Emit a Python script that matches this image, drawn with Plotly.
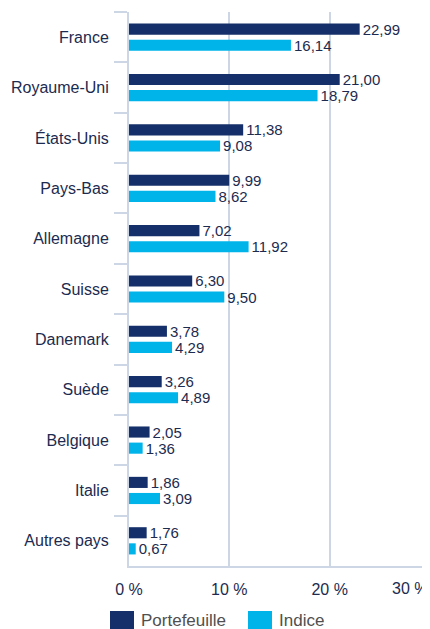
import plotly.graph_objects as go

categories = ["France", "Royaume-Uni", "États-Unis", "Pays-Bas", "Allemagne", "Suisse",
              "Danemark", "Suède", "Belgique", "Italie", "Autres pays"]
portefeuille = [22.99, 21.00, 11.38, 9.99, 7.02, 6.30, 3.78, 3.26, 2.05, 1.86, 1.76]
indice = [16.14, 18.79, 9.08, 8.62, 11.92, 9.50, 4.29, 4.89, 1.36, 3.09, 0.67]
series_names = ["Portefeuille", "Indice"]
x_tickvals = [0, 10, 20]
x_ticktext = ["0 %", "10 %", "20 %"]

DARK = "#142f69"
LIGHT = "#00b4ea"
NAVY = "#1c2b4f"
GRID = "#cdd6e4"
FONT = "Liberation Sans, Arial, sans-serif"

fig = go.Figure()
for name, vals, col in [(series_names[0], portefeuille, DARK), (series_names[1], indice, LIGHT)]:
    fig.add_trace(go.Bar(
        y=categories, x=vals, name=name, orientation="h",
        marker=dict(color=col, line=dict(width=0)),
        texttemplate="%{x:.2f}", textposition="outside", constraintext="none",
        textfont=dict(size=15, color=NAVY, family=FONT),
        cliponaxis=False, showlegend=False,
    ))

# page has an 8px body margin, so figure is drawn at (8, 8)
fig.update_layout(
    width=422, height=621,
    margin=dict(l=121, r=0, t=4, b=63, autoexpand=False),
    paper_bgcolor="white", plot_bgcolor="white",
    barmode="group", bargap=0.36, bargroupgap=0.31,
    separators=", ",
    font=dict(family=FONT, color=NAVY),
    showlegend=False,
)
fig.update_xaxes(
    range=[0, 30], tickvals=x_tickvals, ticktext=x_ticktext, automargin=False,
    showgrid=True, gridcolor=GRID, gridwidth=1.5,
    zeroline=False, showline=True, linecolor=GRID, linewidth=2,
    ticks="", tickfont=dict(size=16, color=NAVY), ticklabelstandoff=8,
)
fig.update_yaxes(
    autorange="reversed", showgrid=False, zeroline=False, automargin=False,
    showline=True, linecolor=GRID, linewidth=2,
    ticks="outside", tickson="boundaries", ticklen=13, tickcolor=GRID, tickwidth=2,
    tickfont=dict(size=16, color=NAVY), ticklabelstandoff=15,
)
# 30 % label at right edge
fig.add_annotation(x=30, y=0, xref="x", yref="paper", text="30 %", showarrow=False,
                   xanchor="right", yanchor="top", yshift=-12,
                   font=dict(size=16, color=NAVY, family=FONT))
# custom legend
legend_items = [(series_names[0], DARK, 110), (series_names[1], LIGHT, 248)]
for name, col, px in legend_items:
    fig.add_shape(type="rect", xref="paper", yref="paper",
                  x0=(px - 129) / 301, x1=(px + 24 - 129) / 301,
                  y0=-(611 - 566) / 554 - 18 / 554, y1=-(611 - 566) / 554,
                  fillcolor=col, line=dict(width=0))
    fig.add_annotation(x=(px + 29 - 129) / 301, y=-(620 - 566) / 554, xref="paper", yref="paper",
                       text=name, showarrow=False, xanchor="left", yanchor="middle",
                       font=dict(size=17, color="#505050", family=FONT))

fig.write_html("out.html")
